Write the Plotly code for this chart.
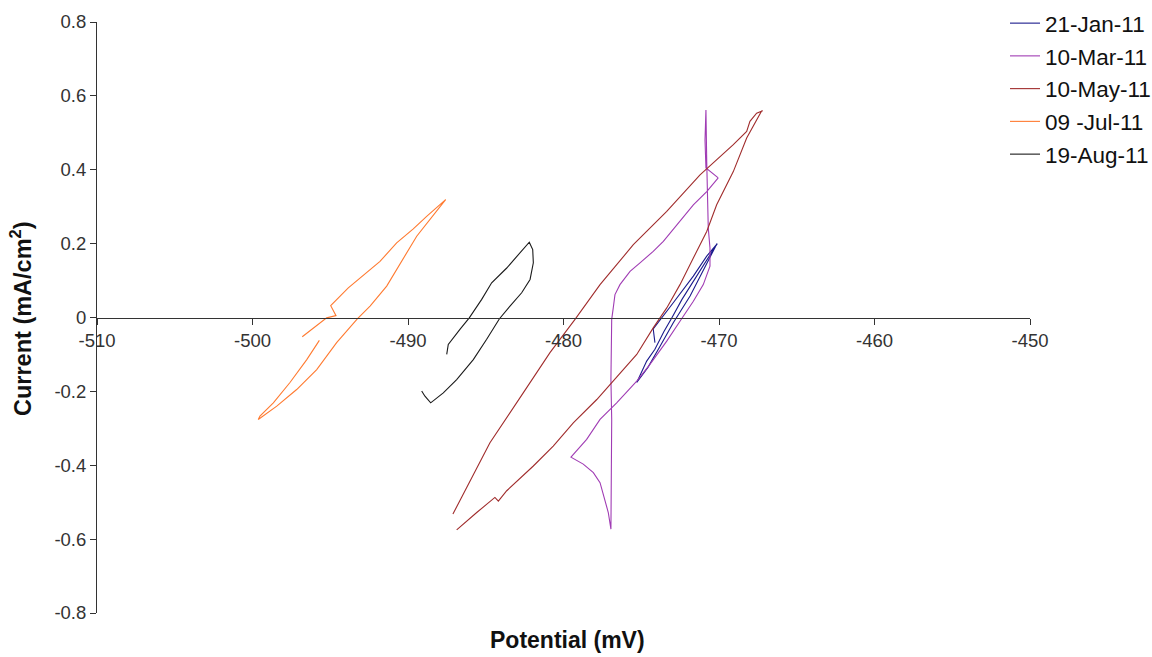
import plotly.graph_objects as go

series_names = ["21-Jan-11", "10-Mar-11", "10-May-11", "09 -Jul-11", "19-Aug-11"]
series_colors = ["#1a1a8c", "#a03cb4", "#a02c2c", "#ff7a30", "#1a1a1a"]

jan_x = [-474.12, -474.21, -474.23, -472.94, -471.65, -470.79, -470.11,
         -470.45, -471.09, -471.74, -472.38, -473.02, -473.54, -474.12, -474.65, -475.29,
         -474.57, -473.79, -472.94, -471.86, -471.22, -470.58, -470.19]
jan_y = [-0.068, -0.046, -0.031, 0.040, 0.112, 0.166, 0.200,
         0.178, 0.135, 0.095, 0.049, 0.000, -0.038, -0.086, -0.118, -0.176,
         -0.135, -0.078, -0.014, 0.058, 0.112, 0.166, 0.195]

mar_x = [-470.05, -470.58, -470.84, -470.90, -470.84,
         -470.79, -470.75, -470.69, -470.58, -470.58,
         -471.01, -471.65, -472.51, -473.36, -474.44, -475.29, -476.58, -477.65, -478.51, -479.52,
         -478.73, -478.08, -477.65, -477.33, -477.12, -476.95,
         -476.92, -476.90, -476.95, -476.90, -476.90,
         -476.80, -476.69, -476.37, -475.72, -475.08, -474.23, -473.58, -472.72, -471.65,
         -470.79, -470.05]
mar_y = [0.378, 0.395, 0.405, 0.480, 0.562,
         0.422, 0.332, 0.242, 0.188, 0.139,
         0.089, 0.044, -0.010, -0.064, -0.127, -0.172, -0.231, -0.276, -0.330, -0.378,
         -0.397, -0.420, -0.447, -0.492, -0.528, -0.573,
         -0.438, -0.276, -0.168, -0.073, -0.005,
         0.026, 0.062, 0.089, 0.125, 0.148, 0.179, 0.206, 0.251, 0.305,
         0.341, 0.378]

may_x = [-487.11, -484.73, -482.59, -480.87, -479.26, -477.65, -475.51, -473.36, -471.22,
         -469.08, -468.22, -468.01, -467.58, -467.19,
         -467.26, -468.22, -469.08, -470.15, -470.79, -471.65, -472.51, -473.36, -474.23,
         -475.29, -476.80, -477.86, -479.37, -480.66, -481.94, -483.65, -484.19, -484.41,
         -485.58, -486.87]
may_y = [-0.532, -0.339, -0.204, -0.095, -0.005, 0.089, 0.197, 0.287, 0.386,
         0.468, 0.504, 0.531, 0.553, 0.560,
         0.559, 0.486, 0.395, 0.305, 0.233, 0.161, 0.089, 0.026, -0.028,
         -0.100, -0.172, -0.222, -0.285, -0.348, -0.402, -0.469, -0.497, -0.487,
         -0.528, -0.575]

jul_x = [-496.80, -495.23, -494.63, -494.97, -493.84, -491.80, -490.73, -489.66, -488.80, -487.58,
         -489.44, -490.08, -490.73, -491.37, -492.44, -493.26, -494.59, -495.87, -497.16, -498.44, -499.63,
         -499.52, -498.66, -497.59, -496.51, -495.70]
jul_y = [-0.052, -0.001, 0.005, 0.032, 0.080, 0.152, 0.202, 0.240, 0.274, 0.319,
         0.220, 0.175, 0.130, 0.085, 0.031, -0.004, -0.068, -0.141, -0.195, -0.240, -0.276,
         -0.267, -0.231, -0.176, -0.114, -0.062]

aug_x = [-487.51, -487.41, -486.66, -486.06, -485.26, -484.62, -483.65, -482.80, -482.20,
         -481.98, -481.94, -482.15, -482.69, -483.44, -484.13, -484.94, -485.80, -486.87,
         -487.73, -488.54, -488.91, -489.12]
aug_y = [-0.100, -0.073, -0.032, -0.001, 0.049, 0.094, 0.134, 0.175, 0.204,
         0.184, 0.148, 0.103, 0.067, 0.031, -0.004, -0.059, -0.114, -0.168,
         -0.204, -0.231, -0.213, -0.199]

x_ticks = [-510, -500, -490, -480, -470, -460, -450]
y_ticks = [-0.8, -0.6, -0.4, -0.2, 0, 0.2, 0.4, 0.6, 0.8]
y_tick_text = ["-0.8", "-0.6", "-0.4", "-0.2", "0", "0.2", "0.4", "0.6", "0.8"]

all_x = [jan_x, mar_x, may_x, jul_x, aug_x]
all_y = [jan_y, mar_y, may_y, jul_y, aug_y]

W, H = 1152, 657
PL, PR, PT, PB = 97, 1030, 22, 613          # plot area in pixels
x_dom = [PL / W, PR / W]
y_dom = [(H - PB) / H, (H - PT) / H]
y_zero_paper = (H - (PT + PB) / 2) / H

FONT = "Liberation Sans, Arial, sans-serif"
fig = go.Figure()
for i, (name, col) in enumerate(zip(series_names, series_colors)):
    fig.add_trace(go.Scatter(x=all_x[i], y=all_y[i], mode="lines", name=name,
                             line=dict(color=col, width=1.1), legendgroup=name))

fig.update_layout(
    width=W, height=H, autosize=False,
    margin=dict(l=0, r=0, t=0, b=0, pad=0, autoexpand=False),
    paper_bgcolor="white", plot_bgcolor="white",
    font=dict(family=FONT, size=18.5, color="#222"),
    showlegend=True,
    legend=dict(x=1005 / W, y=1 - 2 / H, xanchor="left", yanchor="top",
                font=dict(size=22.5, color="#111"), tracegroupgap=0.5,
                bgcolor="rgba(0,0,0,0)"),
    xaxis=dict(range=[-510, -450], tickmode="array", tickvals=x_ticks,
               ticktext=[str(v) for v in x_ticks], domain=x_dom,
               anchor="free", position=y_zero_paper, showline=True, linecolor="#333", linewidth=1,
               ticks="outside", ticklen=6, tickcolor="#333", showgrid=False, zeroline=False,
               tickfont=dict(size=18.5, color="#333")),
    yaxis=dict(range=[-0.8, 0.8], tickmode="array", tickvals=y_ticks, ticktext=y_tick_text,
               showline=True, linecolor="#333", linewidth=1, ticks="outside", ticklen=6,
               tickcolor="#333", showgrid=False, zeroline=False, domain=y_dom,
               tickfont=dict(size=18.5, color="#333")),
    annotations=[
        dict(text="<b>Potential (mV)</b>", xref="paper", yref="paper", x=567 / W, y=1 - 640 / H,
             xanchor="center", yanchor="middle", showarrow=False,
             font=dict(family=FONT, size=23, color="#111")),
        dict(text="<b>Current (mA/cm<sup>2</sup>)</b>", xref="paper", yref="paper", x=21 / W,
             y=1 - 319 / H, xanchor="center", yanchor="middle", textangle=-90, showarrow=False,
             font=dict(family=FONT, size=23.5, color="#111")),
    ],
)

fig.write_html("out.html", config={"displayModeBar": False},
               post_script="document.body.style.margin='0';document.body.style.overflow='hidden';")
